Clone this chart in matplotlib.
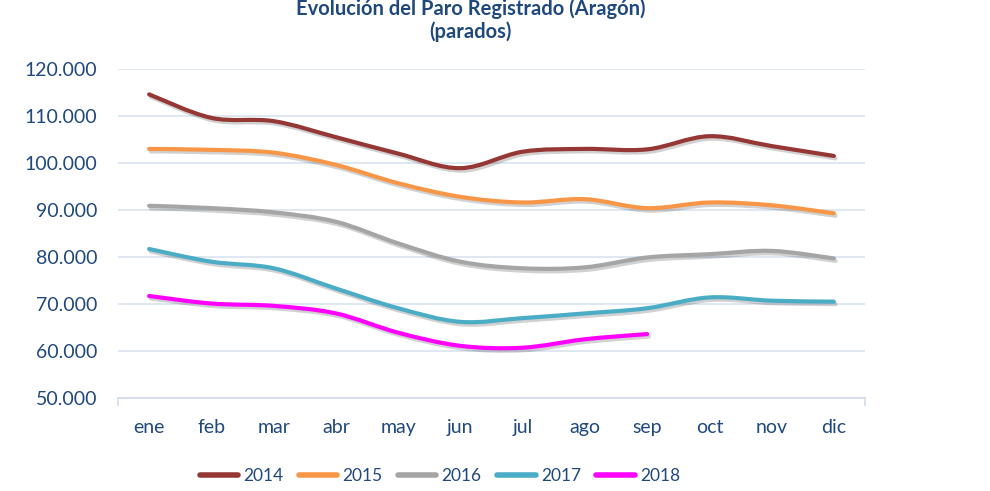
import matplotlib
matplotlib.use('Agg')
import matplotlib.pyplot as plt
from matplotlib.path import Path
from matplotlib.patches import PathPatch
from matplotlib.lines import Line2D
from matplotlib.ticker import FuncFormatter
import matplotlib.patheffects as pe

# Paro registrado en Aragón (parados), lectura aproximada del gráfico
meses = ['ene', 'feb', 'mar', 'abr', 'may', 'jun', 'jul', 'ago', 'sep', 'oct', 'nov', 'dic']
anios = ['2014', '2015', '2016', '2017', '2018']
paro_2014 = [114600, 109600, 108900, 105500, 102000, 98900, 102400, 103000, 102900, 105700, 103600, 101500]
paro_2015 = [103000, 102800, 102200, 99600, 95700, 92800, 91600, 92300, 90400, 91600, 91000, 89300]
paro_2016 = [90900, 90400, 89500, 87500, 82900, 79000, 77600, 77800, 79900, 80600, 81300, 79700]
paro_2017 = [81700, 79000, 77600, 73300, 69100, 66200, 67000, 68000, 69100, 71400, 70700, 70500]
paro_2018 = [71700, 70100, 69600, 68000, 63900, 61100, 60700, 62500, 63600]
colores = ['#953735', '#F79646', '#A5A5A5', '#4BACC6', '#FF00FF']

azul = '#1F497D'
plt.rcParams['font.family'] = ['Lato', 'DejaVu Sans']

fig = plt.figure(figsize=(9.9, 4.91), dpi=100)
ax = fig.add_axes([118 / 990, 1 - 398 / 491, (865 - 118) / 990, (398 - 69) / 491])


def curva_suave(xs, ys):
    # trazado tipo "línea suavizada" de Excel: Bezier entre puntos consecutivos
    n = len(xs)
    verts = [(xs[0], ys[0])]
    codes = [Path.MOVETO]
    for i in range(n - 1):
        x0, y0 = xs[max(i - 1, 0)], ys[max(i - 1, 0)]
        x1, y1 = xs[i], ys[i]
        x2, y2 = xs[i + 1], ys[i + 1]
        x3, y3 = xs[min(i + 2, n - 1)], ys[min(i + 2, n - 1)]
        c1 = (x1 + (x2 - x0) / 6, y1 + (y2 - y0) / 6)
        c2 = (x2 - (x3 - x1) / 6, y2 - (y3 - y1) / 6)
        verts += [c1, c2, (x2, y2)]
        codes += [Path.CURVE4] * 3
    return Path(verts, codes)


series = [paro_2014, paro_2015, paro_2016, paro_2017, paro_2018]
for datos, color in zip(series, colores):
    xs = list(range(len(datos)))
    patch = PathPatch(curva_suave(xs, datos), facecolor='none', edgecolor=color,
                      lw=3.0, capstyle='round', joinstyle='round', zorder=3)
    patch.set_path_effects([pe.SimpleLineShadow(offset=(1.2, -1.8), shadow_color='black', alpha=0.18),
                            pe.Normal()])
    ax.add_patch(patch)

ax.set_xlim(-0.5, 11.5)
ax.set_ylim(50000, 120000)
ax.set_yticks(range(50000, 120001, 10000))
ax.yaxis.set_major_formatter(FuncFormatter(lambda v, p: f'{int(v):,}'.replace(',', '.')))
ax.set_xticks(range(12))
ax.set_xticklabels(meses)

ax.grid(axis='y', color='#D9E3F1', lw=1.2)
ax.set_axisbelow(True)
for s in ['top', 'right', 'left']:
    ax.spines[s].set_visible(False)
ax.spines['bottom'].set_color('#D0DCEC')
ax.spines['bottom'].set_linewidth(1.2)
ax.tick_params(axis='y', length=0, pad=15, labelsize=14, labelcolor=azul)
ax.tick_params(axis='x', length=0, pad=15, labelsize=14, labelcolor=azul)
for xe in (-0.5, 11.5):
    ax.plot([xe, xe], [50000, 48500], color='#D0DCEC', lw=1.2, clip_on=False)

fig.text(0.475, 1 - 15 / 491, 'Evolución del Paro Registrado (Aragón)', ha='center', va='baseline',
         fontsize=14.5, fontweight='bold', color=azul)
fig.text(0.475, 1 - 38 / 491, '(parados)', ha='center', va='baseline',
         fontsize=14.5, fontweight='bold', color=azul)

handles = [Line2D([0], [0], color=c, lw=4, solid_capstyle='round') for c in colores]
fig.legend(handles, anios, loc='center', bbox_to_anchor=(440 / 990, 1 - 476 / 491), ncol=5,
           frameon=False, fontsize=12.5, labelcolor=azul, handlelength=2.2,
           handletextpad=0.3, columnspacing=0.9)

fig.savefig('out.png', dpi=100)
